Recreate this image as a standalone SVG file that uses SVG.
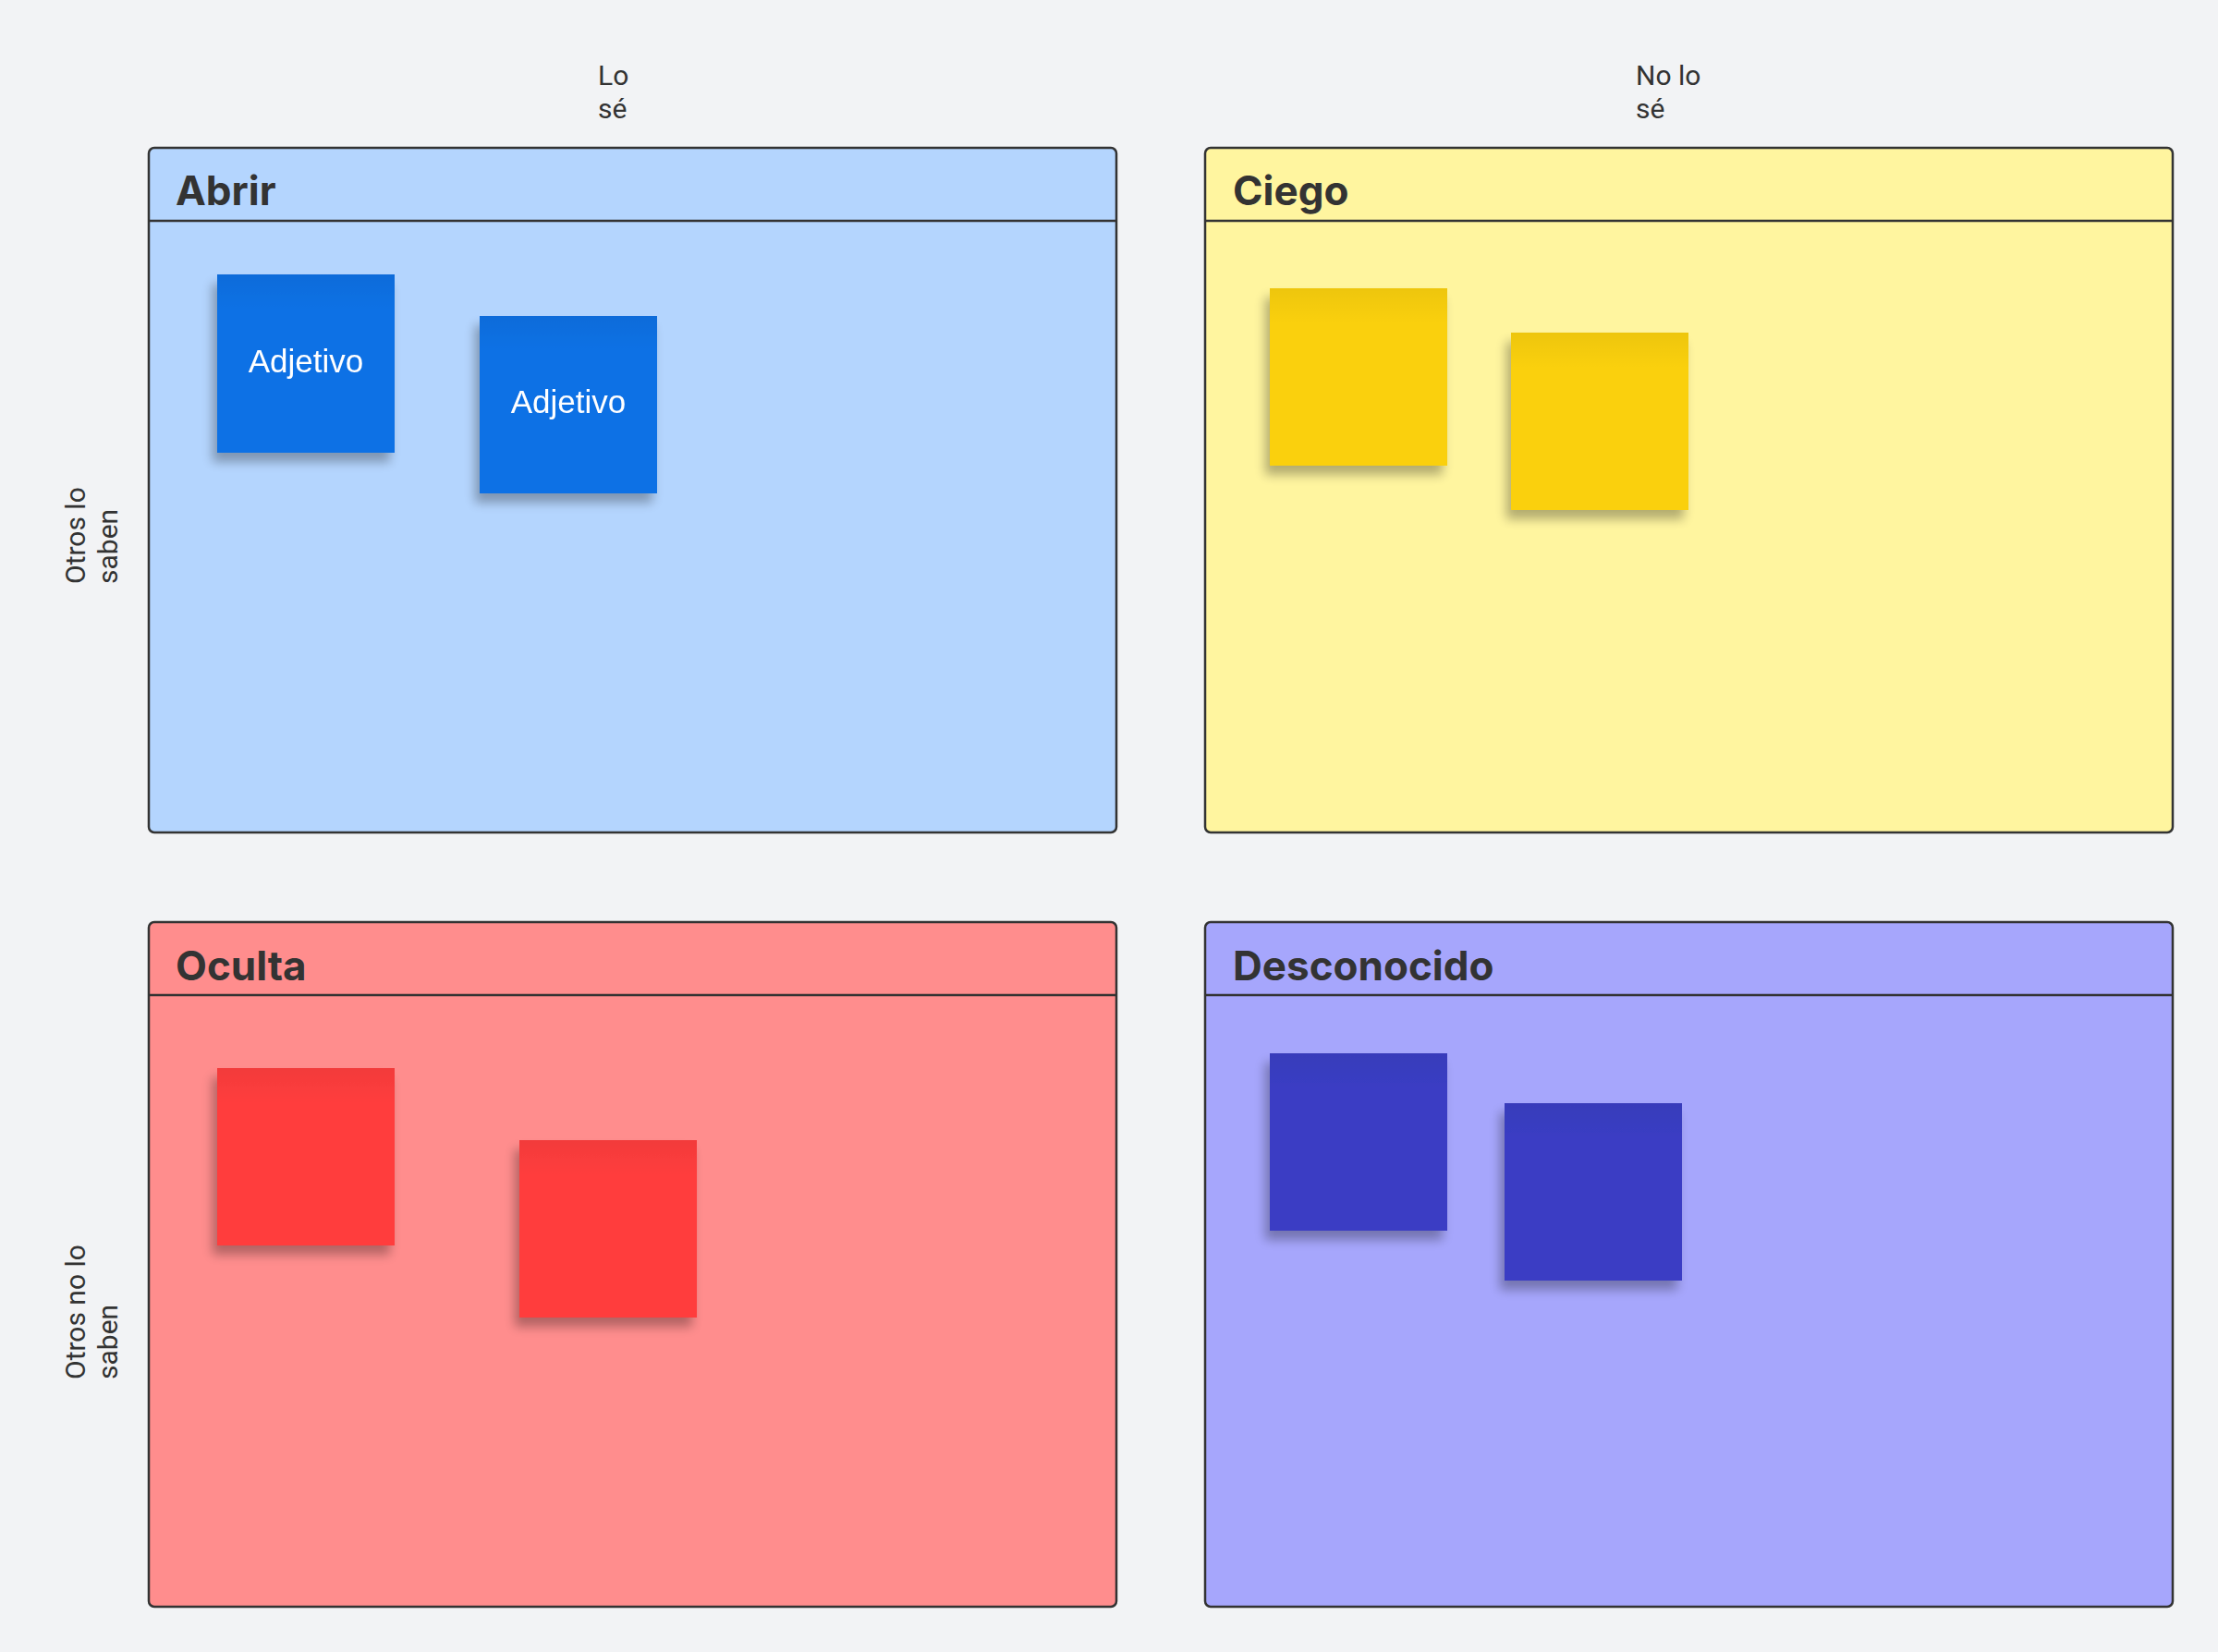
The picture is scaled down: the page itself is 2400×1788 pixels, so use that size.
<svg xmlns="http://www.w3.org/2000/svg" width="2400" height="1788" viewBox="0 0 2400 1788">
<defs>
<filter id="sh" x="-20%" y="-20%" width="140%" height="150%">
<feGaussianBlur in="SourceAlpha" stdDeviation="6"/>
<feOffset dx="-5" dy="10" result="b"/>
<feComponentTransfer><feFuncA type="linear" slope="0.3"/></feComponentTransfer>
<feMerge><feMergeNode/><feMergeNode in="SourceGraphic"/></feMerge>
</filter>
<linearGradient id="topShade" x1="0" y1="0" x2="0" y2="1">
<stop offset="0" stop-color="#000" stop-opacity="0.05"/>
<stop offset="0.2" stop-color="#000" stop-opacity="0"/>
</linearGradient>
</defs>
<style>
.frame{stroke:#333333;stroke-width:2.5}
.hline{stroke:#333333;stroke-width:2.5}
.title{font-family:Inter,Roboto,"Liberation Sans",sans-serif;font-weight:700;font-size:44px;fill:#333333}
.axis{font-family:Roboto,"Liberation Sans",sans-serif;font-size:30px;fill:#333333}
.stxt{font-family:"Liberation Sans",Arial,sans-serif;font-size:35px;fill:#ffffff;text-anchor:middle}
.blue{fill:#1071E5}.yellow{fill:#FAD00F}.red{fill:#FF3D3D}.purple{fill:#3A3EC4}
.shade{fill:url(#topShade)}
</style>
<rect width="2400" height="1788" fill="#F2F3F5"/>

<g id="axis-labels">
<text class="axis" x="647" y="92">Lo</text>
<text class="axis" x="647" y="128">sé</text>
<text class="axis" x="1770" y="92">No lo</text>
<text class="axis" x="1770" y="128">sé</text>
<text class="axis" x="92" y="632" transform="rotate(-90 92 632)">Otros lo</text>
<text class="axis" x="127" y="632" transform="rotate(-90 127 632)">saben</text>
<text class="axis" x="92" y="1493" transform="rotate(-90 92 1493)">Otros no lo</text>
<text class="axis" x="127" y="1493" transform="rotate(-90 127 1493)">saben</text>
</g>

<g id="frame-abrir">
<rect class="frame" x="161" y="160" width="1047" height="741" rx="6" fill="#B4D5FE"/>
<line class="hline" x1="161" y1="239" x2="1208" y2="239"/>
<text class="title" x="190" y="222">Abrir</text>
</g>
<g id="frame-ciego">
<rect class="frame" x="1304" y="160" width="1047" height="741" rx="6" fill="#FFF59F"/>
<line class="hline" x1="1304" y1="239" x2="2351" y2="239"/>
<text class="title" x="1334" y="222">Ciego</text>
</g>
<g id="frame-oculta">
<rect class="frame" x="161" y="998" width="1047" height="741" rx="6" fill="#FF8D8D"/>
<line class="hline" x1="161" y1="1077" x2="1208" y2="1077"/>
<text class="title" x="190" y="1061">Oculta</text>
</g>
<g id="frame-desconocido">
<rect class="frame" x="1304" y="998" width="1047" height="741" rx="6" fill="#A6A6FC"/>
<line class="hline" x1="1304" y1="1077" x2="2351" y2="1077"/>
<text class="title" x="1334" y="1061">Desconocido</text>
</g>

<g id="sticky-blue-1" filter="url(#sh)">
<rect class="blue" x="235" y="297" width="192" height="193"/>
<rect class="shade" x="235" y="297" width="192" height="193"/>
<text class="stxt" x="331" y="403">Adjetivo</text>
</g>
<g id="sticky-blue-2" filter="url(#sh)">
<rect class="blue" x="519" y="342" width="192" height="192"/>
<rect class="shade" x="519" y="342" width="192" height="192"/>
<text class="stxt" x="615" y="447">Adjetivo</text>
</g>
<g id="sticky-yellow-1" filter="url(#sh)">
<rect class="yellow" x="1374" y="312" width="192" height="192"/>
<rect class="shade" x="1374" y="312" width="192" height="192"/>
</g>
<g id="sticky-yellow-2" filter="url(#sh)">
<rect class="yellow" x="1635" y="360" width="192" height="192"/>
<rect class="shade" x="1635" y="360" width="192" height="192"/>
</g>
<g id="sticky-red-1" filter="url(#sh)">
<rect class="red" x="235" y="1156" width="192" height="192"/>
<rect class="shade" x="235" y="1156" width="192" height="192"/>
</g>
<g id="sticky-red-2" filter="url(#sh)">
<rect class="red" x="562" y="1234" width="192" height="192"/>
<rect class="shade" x="562" y="1234" width="192" height="192"/>
</g>
<g id="sticky-purple-1" filter="url(#sh)">
<rect class="purple" x="1374" y="1140" width="192" height="192"/>
<rect class="shade" x="1374" y="1140" width="192" height="192"/>
</g>
<g id="sticky-purple-2" filter="url(#sh)">
<rect class="purple" x="1628" y="1194" width="192" height="192"/>
<rect class="shade" x="1628" y="1194" width="192" height="192"/>
</g>
<g id="connectors"/>
</svg>
